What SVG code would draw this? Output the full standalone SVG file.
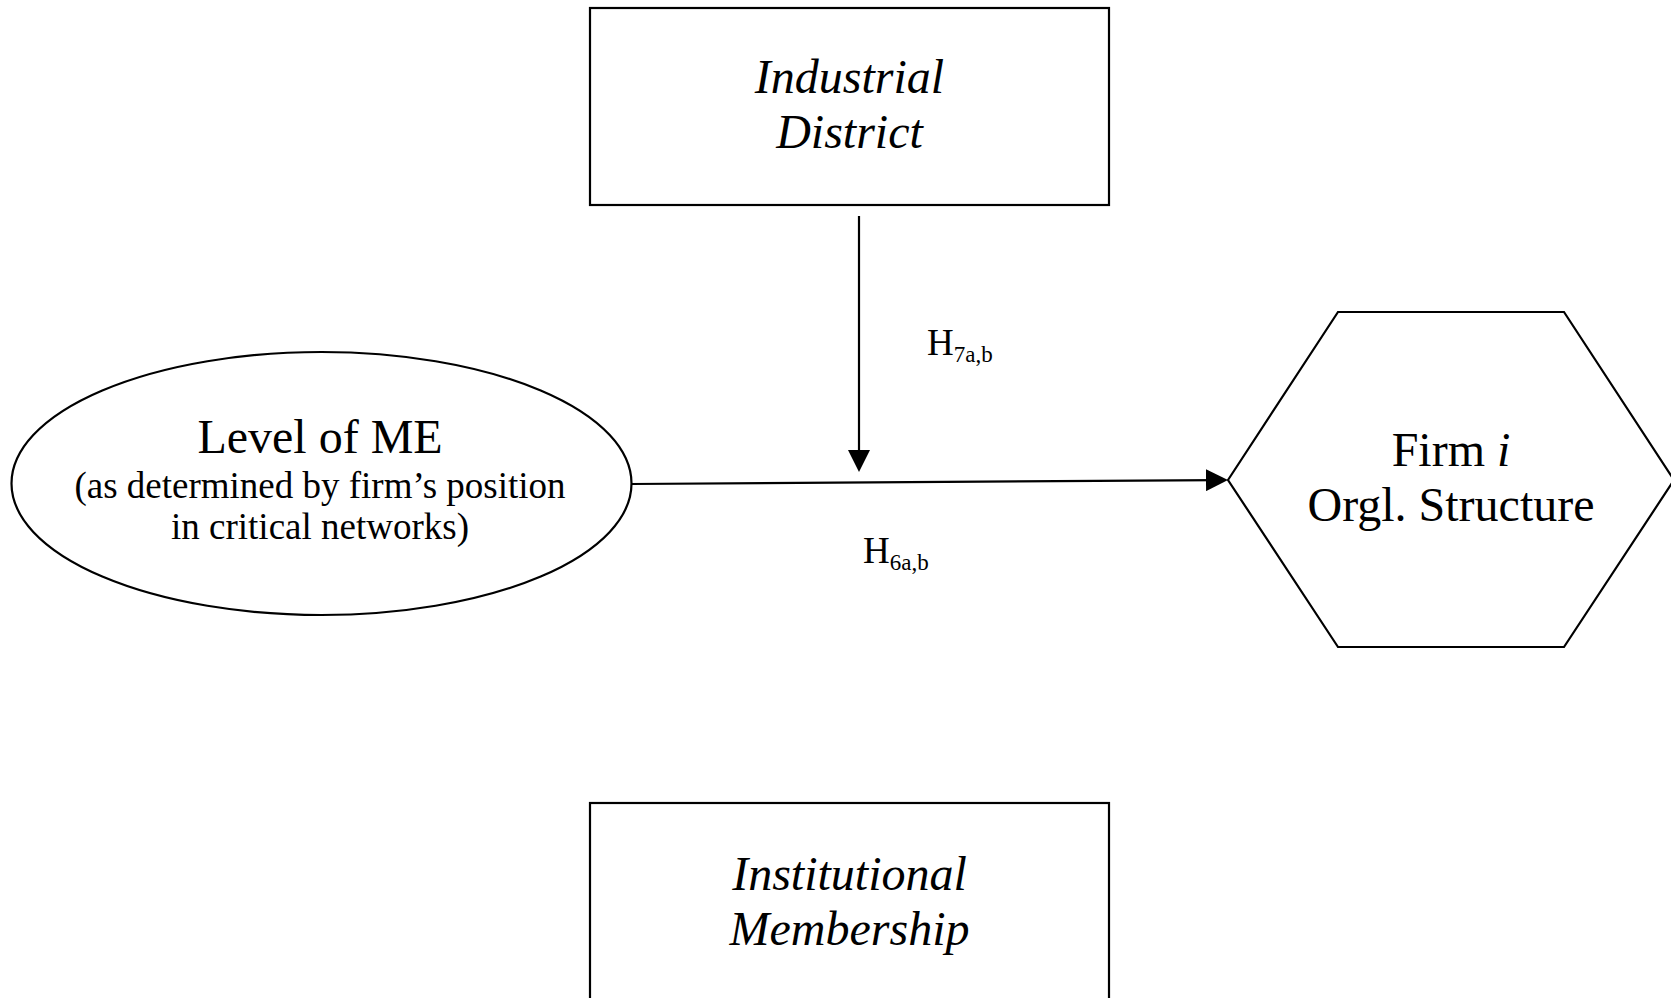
<svg xmlns="http://www.w3.org/2000/svg" width="1671" height="998" viewBox="0 0 1671 998">
<style>
.shape{fill:#fff;stroke:#000;stroke-width:2.2}
.t{font-family:"Liberation Serif","Times New Roman",serif;fill:#000;text-anchor:middle}
.big{font-size:48px}
.it{font-style:italic}
.small{font-size:37px}
.lbl{font-family:"Liberation Serif","Times New Roman",serif;fill:#000;font-size:37px}
.sub{font-size:23px}
.conn{stroke:#000;stroke-width:2.2;fill:none}
</style>
<defs>
<marker id="arrow" markerUnits="userSpaceOnUse" markerWidth="22" markerHeight="22" viewBox="0 0 22 22" refX="12" refY="11" orient="auto">
<path d="M0,0 L22,11 L0,22 z" fill="#000"/>
</marker>
</defs>
<rect width="1671" height="998" fill="#fff"/>
<g id="industrial-district">
<rect class="shape" x="590" y="8" width="519" height="197"/>
<text class="t big it" x="849.5" y="93">Industrial</text>
<text class="t big it" x="849.5" y="148">District</text>
</g>
<g id="institutional-membership">
<rect class="shape" x="590" y="803" width="519" height="220"/>
<text class="t big it" x="849.5" y="890">Institutional</text>
<text class="t big it" x="849.5" y="945">Membership</text>
</g>
<g id="level-of-me">
<ellipse class="shape" cx="321.5" cy="483.5" rx="310" ry="131.5"/>
<text class="t big" x="320" y="453">Level of ME</text>
<text class="t small" x="320" y="498">(as determined by firm’s position</text>
<text class="t small" x="320" y="539">in critical networks)</text>
</g>
<g id="firm-structure">
<polygon class="shape" points="1228,480 1338,312 1564,312 1674,480 1564,647 1338,647"/>
<text class="t big" x="1451" y="466">Firm <tspan class="it">i</tspan></text>
<text class="t big" x="1451" y="521">Orgl. Structure</text>
</g>
<g id="connectors">
<line class="conn" x1="631" y1="484" x2="1218" y2="480.07" marker-end="url(#arrow)"/>
<line class="conn" x1="859" y1="216" x2="859" y2="462" marker-end="url(#arrow)"/>
<text class="lbl" x="927" y="355">H<tspan class="sub" dy="7">7a,b</tspan></text>
<text class="lbl" x="863" y="563">H<tspan class="sub" dy="7">6a,b</tspan></text>
</g>
</svg>
